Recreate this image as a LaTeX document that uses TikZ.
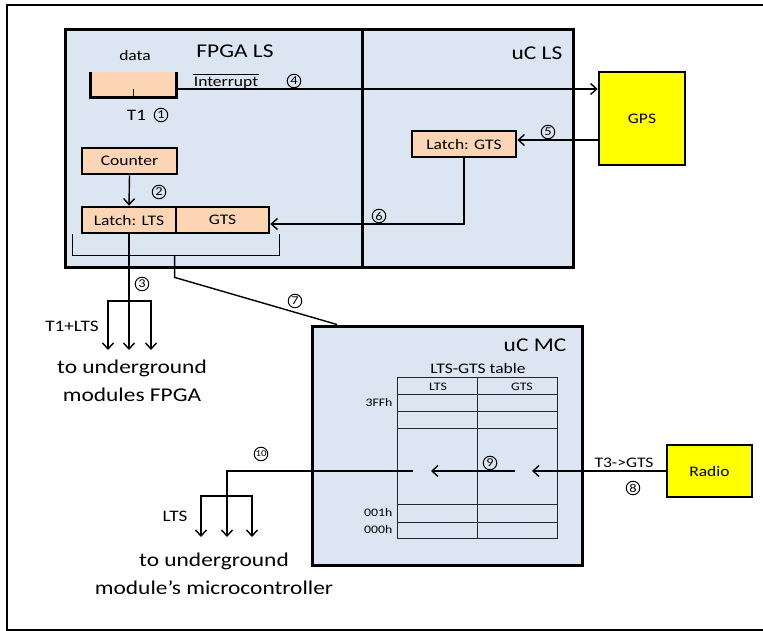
\documentclass[tikz,border=0pt]{standalone}
\usepackage{fontspec}
\setmainfont[FakeStretch=1.2]{Carlito}
\usetikzlibrary{arrows.meta}

\definecolor{lsblue}{RGB}{220,230,242}
\definecolor{regpeach}{RGB}{252,213,181}
\definecolor{extyellow}{RGB}{255,255,0}

\tikzset{
  unitbox/.style={draw, line width=3pt, fill=lsblue, inner sep=0pt},
  regbox/.style={draw, line width=2.8pt, fill=regpeach, inner sep=0pt,
    minimum height=26pt, font=\fontsize{14.6}{16}\selectfont},
  extbox/.style={draw, line width=2.8pt, fill=extyellow, inner sep=0pt,
    font=\fontsize{14.6}{16}\selectfont},
  wire/.style={line width=1.4pt},
  arr/.style={wire, -{Straight Barb[length=6pt, width=11pt, line width=1.4pt]}},
  num/.style={circle, draw, line width=1pt, inner sep=0pt, minimum size=13.5pt,
    font=\fontsize{12}{12}\selectfont},
  title/.style={font=\fontsize{19.5}{22}\selectfont},
  big/.style={font=\fontsize{19.5}{28.5}\selectfont, align=center},
  lbl/.style={font=\fontsize{14.6}{16}\selectfont},
  mid/.style={font=\fontsize{16}{18}\selectfont},
  cell/.style={font=\fontsize{11.5}{12}\selectfont},
  rule/.style={gray!30!black, line width=1pt}
}

\begin{document}
\begin{tikzpicture}[x=1pt, y=-1pt]
  \useasboundingbox (0,0) rectangle (763,631);
  \clip (0,0) rectangle (763,631);
  % outer frame, right side runs off the page
  \draw[line width=2.4pt] (7,5) rectangle (790,630);

  % upper board: FPGA side and uC side
  \node[unitbox, minimum width=297pt, minimum height=237pt] (fpga) at (213.5,148.5) {};
  \node[unitbox, minimum width=211pt, minimum height=237pt] (ucls) at (467.5,148.5) {};
  \node[title] at (235,51) {FPGA LS};
  \node[title] at (537,53) {uC LS};

  % data register, open at the top
  \node[fill=regpeach, minimum width=85pt, minimum height=25pt, inner sep=0pt] (datareg) at (133.5,84.5) {};
  \draw[line width=2.8pt] (datareg.north west) -- (datareg.south west) -- (datareg.south east) -- (datareg.north east);
  \draw[wire] (datareg.south) -- ++(0,-8);
  \node[lbl] at (135,55) {data};
  \node[mid] at (136.5,115) {T1};
  \node[num] at (161,115) {1};
  \node[lbl, inner sep=1pt] (intr) at (226,83) {Interrupt};
  \draw[line width=1pt] ([yshift=1.5pt]intr.north west) -- ([yshift=1.5pt]intr.north east);

  % registers
  \node[regbox, minimum width=95pt] (counter) at (129.5,161) {Counter};
  \node[regbox, minimum width=94pt] (latchlts) at (129,220) {Latch: LTS};
  \node[regbox, minimum width=93pt] (gts) at (222.5,220) {GTS};
  \node[regbox, minimum width=104pt] (latchgts) at (464,144) {Latch: GTS};

  % outside sources
  \node[extbox, minimum width=86pt, minimum height=93pt] (gps) at (642,118.5) {GPS};
  \node[extbox, minimum width=85pt, minimum height=52pt] (radio) at (709.5,471) {Radio};

  % lower board
  \node[unitbox, minimum width=270pt, minimum height=239pt] (ucmc) at (447,445.5) {};
  \node[title] at (535,345) {uC MC};

  % LTS-GTS table
  \node[lbl] at (478,368) {LTS-GTS table};
  \draw[rule] (397,377) rectangle (557,538);
  \draw[rule] (477,377) -- (477,538);
  \foreach \y in {394,411,428,504,522}
    \draw[rule] (397,\y) -- (557,\y);
  \node[cell] at (438,387) {LTS};
  \node[cell] at (522,387) {GTS};
  \node[cell, anchor=east] at (396,402.5) {3FFh};
  \node[cell, anchor=east] at (396,513) {001h};
  \node[cell, anchor=east] at (396,530) {000h};

  % steps 2, 4, 5, 6
  \draw[arr] (counter.south) -- (latchlts.north);
  \node[num] at (159,192) {2};
  \draw[arr] ([yshift=-4.5pt]datareg.east) -- ([yshift=-4.5pt]datareg.east -| gps.west);
  \node[num] at (294,81) {4};
  \draw[arr] ([yshift=4pt]latchgts.east -| gps.west) -- ([yshift=4pt]latchgts.east);
  \node[num] at (548,132) {5};
  \draw[arr] (latchgts.south) |- ([yshift=-4pt]gts.east);
  \node[num] at (379,216) {6};

  % step 3: T1+LTS down to the FPGAs
  \coordinate (fpgafork) at (129,301);
  \draw[wire] (latchlts.south) -- (fpgafork);
  \draw[arr] (fpgafork) -- ++(0,49);
  \draw[arr] (fpgafork) -- ++(-21,0) -- ++(0,49);
  \draw[arr] (fpgafork) -- ++(22,0) -- ++(0,49);
  \node[num] at (142,284) {3};
  \node[mid] at (72,326) {T1+LTS};
  \node[big] at (132,381) {to underground\\modules FPGA};

  % step 7: both latches over to uC MC
  \draw[wire] ([xshift=-8pt]latchlts.south west) -- ++(0,21) coordinate (brk) -| ([xshift=9pt]gts.south east);
  \draw[wire] (brk -| gts.south west) -- ++(0,22) -- ([xshift=-110pt]ucmc.north);
  \node[num] at (295,301) {7};

  % steps 8, 9, 10
  \coordinate (tabin) at (532,471);
  \coordinate (tabgts) at (515,471);
  \coordinate (tablts) at (431,471);
  \coordinate (tabout) at (413,471);
  \draw[arr] (radio.west) -- (tabin);
  \node[lbl] at (624,463) {T3->GTS};
  \node[num] at (633,488) {8};
  \draw[arr] (tabgts) -- (tablts);
  \node[num] at (490,463) {9};
  \coordinate (mcfork) at (227,496);
  \draw[wire] (tabout) -| (mcfork);
  \draw[arr] (mcfork) -- ++(0,41);
  \draw[arr] (mcfork) -- ++(-26,0) -- ++(0,41);
  \draw[arr] (mcfork) -- ++(25,0) -- ++(0,41);
  \node[num, font=\fontsize{9}{9}\selectfont] at (261,454) {10};
  \node[mid] at (175,516) {LTS};
  \node[big] at (214,574) {to underground\\module’s microcontroller};
\end{tikzpicture}
\end{document}
